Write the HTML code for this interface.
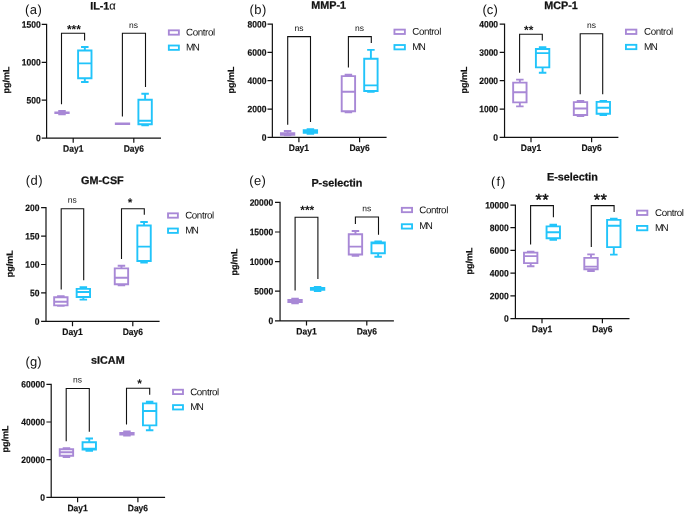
<!DOCTYPE html>
<html lang="en">
<head>
<meta charset="utf-8">
<title>Cytokine box plots</title>
<style>
html,body{margin:0;padding:0;background:#fff;}
body{width:685px;height:515px;overflow:hidden;}
svg{display:block;filter:blur(0.35px);}
text{font-family:"Liberation Sans", Arial, sans-serif;fill:#111111;}
.t{font-weight:bold;font-size:10.8px;stroke:#111;stroke-width:0.25px;}
.k{font-weight:bold;font-size:9.3px;stroke:#111;stroke-width:0.18px;}
.l{font-size:13px;letter-spacing:0.4px;}
.n{font-size:8.5px;}
.s{font-size:11.9px;font-weight:bold;}
.S{font-size:16.5px;letter-spacing:0.4px;stroke:#111;stroke-width:0.45px;}
.g{font-size:9.8px;letter-spacing:-0.43px;}
.m{font-size:9.8px;letter-spacing:-1.6px;}
.ax{stroke:#111111;stroke-width:1.2;fill:none;}
.br{stroke:#111111;stroke-width:1.1;fill:none;}
.p{stroke:#A888D6;stroke-width:1.9;fill:none;}
.b{stroke:#21C4FA;stroke-width:1.9;fill:none;}
</style>
</head>
<body>
<svg width="685" height="515" viewBox="0 0 685 515">
<rect width="685" height="515" fill="#ffffff"/>
<g>
<text class="l" transform="translate(25.1 13.9) rotate(0.03)">(a)</text>
<text class="t" transform="translate(103 9.6) rotate(0.03)" text-anchor="middle">IL-1<tspan font-weight="normal" font-size="11.2px" stroke-width="0.1">α</tspan></text>
<path class="ax" d="M46.6 23.85 V138.05 H161 M41.7 24.45 H46.6 M41.7 62.3 H46.6 M41.7 100.2 H46.6 M41.7 138.05 H46.6 M73.2 138.05 V142.8 M133.8 138.05 V142.8"/>
<text class="k" transform="translate(40.7 27.75) scale(0.915 1) rotate(0.03)" text-anchor="end">1500</text>
<text class="k" transform="translate(40.7 65.6) scale(0.915 1) rotate(0.03)" text-anchor="end">1000</text>
<text class="k" transform="translate(40.7 103.5) scale(0.915 1) rotate(0.03)" text-anchor="end">500</text>
<text class="k" transform="translate(40.7 141.35) scale(0.915 1) rotate(0.03)" text-anchor="end">0</text>
<text class="k" transform="translate(73.2 151.8) scale(0.915 1) rotate(0.03)" text-anchor="middle">Day1</text>
<text class="k" transform="translate(133.8 151.8) scale(0.915 1) rotate(0.03)" text-anchor="middle">Day6</text>
<text class="k" style="font-size:9px" transform="translate(9.2 80) rotate(-90.03)" text-anchor="middle">pg/mL</text>
<rect class="p" style="stroke-width:1.85" x="168.83" y="30.33" width="10.05" height="4.35"/>
<text class="g" transform="translate(186.1 35.6) rotate(0.03)">Control</text>
<rect class="b" style="stroke-width:1.85" x="168.83" y="45.52" width="10.05" height="4.35"/>
<text class="m" transform="translate(186.1 50.5) rotate(0.03)">MN</text>
<path class="p" d="M55.3 112.35 H68.7 V113.05 H55.3 Z M62 112.35 V111.05 M58.25 111.05 H65.75 M62 113.05 V114.35 M58.25 114.35 H65.75" style="fill:#A888D6"/>
<path class="b" d="M78.1 50.5 H91.5 V78.3 H78.1 Z M78.1 63.4 H91.5 M84.8 50.5 V47 M81.05 47 H88.55 M84.8 78.3 V82 M81.05 82 H88.55"/>
<path class="p" d="M115.8 123.55 H129.2 V124.05 H115.8 Z M122.5 123.55 V123.55 M118.75 123.55 H126.25 M122.5 124.05 V124.05 M118.75 124.05 H126.25" style="fill:#A888D6"/>
<path class="b" d="M138.4 99.8 H151.8 V124.3 H138.4 Z M138.4 120.8 H151.8 M145.1 99.8 V93.7 M141.35 93.7 H148.85 M145.1 124.3 V125.4 M141.35 125.4 H148.85"/>
<path class="br" d="M61.5 104.2 V33.3 H84.6 V40.6"/>
<text class="s" transform="translate(73.9 33.2) rotate(0.03)" text-anchor="middle">***</text>
<path class="br" d="M122.4 116.4 V33.3 H145.5 V87"/>
<text class="n" transform="translate(133.5 28) rotate(0.03)" text-anchor="middle">ns</text>
</g>
<g>
<text class="l" transform="translate(249.6 13.9) rotate(0.03)">(b)</text>
<text class="t" transform="translate(328.7 8.8) rotate(0.03)" text-anchor="middle">MMP-1</text>
<path class="ax" d="M272.35 23.5 V137.35 H386.6 M267.5 24.1 H272.35 M267.5 52.4 H272.35 M267.5 80.7 H272.35 M267.5 109.05 H272.35 M267.5 137.35 H272.35 M298.9 137.35 V142.15 M359.6 137.35 V142.15"/>
<text class="k" transform="translate(266.4 27.4) scale(0.915 1) rotate(0.03)" text-anchor="end">8000</text>
<text class="k" transform="translate(266.4 55.7) scale(0.915 1) rotate(0.03)" text-anchor="end">6000</text>
<text class="k" transform="translate(266.4 84) scale(0.915 1) rotate(0.03)" text-anchor="end">4000</text>
<text class="k" transform="translate(266.4 112.35) scale(0.915 1) rotate(0.03)" text-anchor="end">2000</text>
<text class="k" transform="translate(266.4 140.65) scale(0.915 1) rotate(0.03)" text-anchor="end">0</text>
<text class="k" transform="translate(298.9 151.1) scale(0.915 1) rotate(0.03)" text-anchor="middle">Day1</text>
<text class="k" transform="translate(359.6 151.1) scale(0.915 1) rotate(0.03)" text-anchor="middle">Day6</text>
<text class="k" style="font-size:9px" transform="translate(233.9 80) rotate(-90.03)" text-anchor="middle">pg/mL</text>
<rect class="p" style="stroke-width:1.85" x="394.43" y="29.62" width="10.45" height="4.35"/>
<text class="g" transform="translate(412.3 34.7) rotate(0.03)">Control</text>
<rect class="b" style="stroke-width:1.85" x="394.43" y="45.02" width="10.45" height="4.35"/>
<text class="m" transform="translate(412.3 49.9) rotate(0.03)">MN</text>
<path class="p" d="M280.9 133.15 H294.3 V134.75 H280.9 Z M287.6 133.15 V131.05 M283.85 131.05 H291.35 M287.6 134.75 V135.25 M283.85 135.25 H291.35" style="fill:#A888D6"/>
<path class="b" d="M303.7 130.25 H317.1 V132.85 H303.7 Z M310.4 130.25 V129.25 M306.65 129.25 H314.15 M310.4 132.85 V133.75 M306.65 133.75 H314.15" style="fill:#21C4FA"/>
<path class="p" d="M341.7 76.1 H355.1 V111.2 H341.7 Z M341.7 91.7 H355.1 M348.4 76.1 V74.7 M344.65 74.7 H352.15 M348.4 111.2 V112.2 M344.65 112.2 H352.15"/>
<path class="b" d="M364.2 58.7 H377.6 V91 H364.2 Z M364.2 85.4 H377.6 M370.9 58.7 V49.9 M367.15 49.9 H374.65 M370.9 91 V91.9 M367.15 91.9 H374.65"/>
<path class="br" d="M287.7 124.7 V36.6 H310.5 V122"/>
<text class="n" transform="translate(298.9 31) rotate(0.03)" text-anchor="middle">ns</text>
<path class="br" d="M348.4 67.4 V36.6 H371.3 V42.9"/>
<text class="n" transform="translate(359.4 31) rotate(0.03)" text-anchor="middle">ns</text>
</g>
<g>
<text class="l" transform="translate(482.4 13.9) rotate(0.03)" style="letter-spacing:0.1px">(c)</text>
<text class="t" transform="translate(561 9.1) rotate(0.03)" text-anchor="middle">MCP-1</text>
<path class="ax" d="M504.55 23.5 V137.35 H618.4 M499.7 24.1 H504.55 M499.7 52.4 H504.55 M499.7 80.7 H504.55 M499.7 109.05 H504.55 M499.7 137.35 H504.55 M531 137.35 V142.15 M591.6 137.35 V142.15"/>
<text class="k" transform="translate(498.1 27.4) scale(0.915 1) rotate(0.03)" text-anchor="end">4000</text>
<text class="k" transform="translate(498.1 55.7) scale(0.915 1) rotate(0.03)" text-anchor="end">3000</text>
<text class="k" transform="translate(498.1 84) scale(0.915 1) rotate(0.03)" text-anchor="end">2000</text>
<text class="k" transform="translate(498.1 112.35) scale(0.915 1) rotate(0.03)" text-anchor="end">1000</text>
<text class="k" transform="translate(498.1 140.65) scale(0.915 1) rotate(0.03)" text-anchor="end">0</text>
<text class="k" transform="translate(531 151.1) scale(0.915 1) rotate(0.03)" text-anchor="middle">Day1</text>
<text class="k" transform="translate(591.6 151.1) scale(0.915 1) rotate(0.03)" text-anchor="middle">Day6</text>
<text class="k" style="font-size:9px" transform="translate(466.9 80) rotate(-90.03)" text-anchor="middle">pg/mL</text>
<rect class="p" style="stroke-width:1.85" x="625.92" y="29.62" width="10.45" height="4.35"/>
<text class="g" transform="translate(644.1 34.7) rotate(0.03)">Control</text>
<rect class="b" style="stroke-width:1.85" x="625.92" y="44.82" width="10.45" height="4.35"/>
<text class="m" transform="translate(644.1 49.9) rotate(0.03)">MN</text>
<path class="p" d="M513.15 82.6 H526.55 V102.4 H513.15 Z M513.15 92.2 H526.55 M519.85 82.6 V79.6 M516.1 79.6 H523.6 M519.85 102.4 V106.4 M516.1 106.4 H523.6"/>
<path class="b" d="M535.9 49 H549.3 V67.4 H535.9 Z M535.9 53.1 H549.3 M542.6 49 V47.3 M538.85 47.3 H546.35 M542.6 67.4 V72.7 M538.85 72.7 H546.35"/>
<path class="p" d="M573.8 102.1 H587.2 V115 H573.8 Z M573.8 108.5 H587.2 M580.5 102.1 V101 M576.75 101 H584.25 M580.5 115 V116.1 M576.75 116.1 H584.25"/>
<path class="b" d="M596.6 101.9 H610 V113.8 H596.6 Z M596.6 107.7 H610 M603.3 101.9 V101 M599.55 101 H607.05 M603.3 113.8 V115 M599.55 115 H607.05"/>
<path class="br" d="M519.6 72.7 V34.2 H542.3 V40.6"/>
<text class="s" transform="translate(528.7 34.1) rotate(0.03)" text-anchor="middle">**</text>
<path class="br" d="M580.2 94.2 V33.8 H602.7 V94.2"/>
<text class="n" transform="translate(591.6 28) rotate(0.03)" text-anchor="middle">ns</text>
</g>
<g>
<text class="l" transform="translate(25.8 184.7) rotate(0.03)">(d)</text>
<text class="t" transform="translate(102.4 184) rotate(0.03)" text-anchor="middle">GM-CSF</text>
<path class="ax" d="M46 207.1 V321.35 H159.6 M41.1 207.7 H46 M41.1 236.1 H46 M41.1 264.5 H46 M41.1 292.9 H46 M41.1 321.35 H46 M72.5 321.35 V326.15 M132.8 321.35 V326.15"/>
<text class="k" transform="translate(39.5 211) scale(0.915 1) rotate(0.03)" text-anchor="end">200</text>
<text class="k" transform="translate(39.5 239.4) scale(0.915 1) rotate(0.03)" text-anchor="end">150</text>
<text class="k" transform="translate(39.5 267.8) scale(0.915 1) rotate(0.03)" text-anchor="end">100</text>
<text class="k" transform="translate(39.5 296.2) scale(0.915 1) rotate(0.03)" text-anchor="end">50</text>
<text class="k" transform="translate(39.5 324.65) scale(0.915 1) rotate(0.03)" text-anchor="end">0</text>
<text class="k" transform="translate(72.5 335.1) scale(0.915 1) rotate(0.03)" text-anchor="middle">Day1</text>
<text class="k" transform="translate(132.8 335.1) scale(0.915 1) rotate(0.03)" text-anchor="middle">Day6</text>
<text class="k" style="font-size:9px" transform="translate(12.8 263.7) rotate(-90.03)" text-anchor="middle">pg/mL</text>
<rect class="p" style="stroke-width:1.85" x="168.03" y="213.33" width="9.85" height="4.35"/>
<text class="g" transform="translate(185.2 218.5) rotate(0.03)">Control</text>
<rect class="b" style="stroke-width:1.85" x="168.03" y="228.53" width="9.85" height="4.35"/>
<text class="m" transform="translate(185.2 233.4) rotate(0.03)">MN</text>
<path class="p" d="M54.15 297.3 H67.55 V305.4 H54.15 Z M54.15 301.7 H67.55 M60.85 297.3 V296.1 M57.1 296.1 H64.6 M60.85 305.4 V305.9 M57.1 305.9 H64.6"/>
<path class="b" d="M76.65 288.9 H90.05 V297 H76.65 Z M76.65 292 H90.05 M83.35 288.9 V287.3 M79.6 287.3 H87.1 M83.35 297 V299.6 M79.6 299.6 H87.1"/>
<path class="p" d="M114.75 268.4 H128.15 V284.2 H114.75 Z M114.75 277.7 H128.15 M121.45 268.4 V265.8 M117.7 265.8 H125.2 M121.45 284.2 V285.4 M117.7 285.4 H125.2"/>
<path class="b" d="M137.35 225.5 H150.75 V261 H137.35 Z M137.35 246.6 H150.75 M144.05 225.5 V222 M140.3 222 H147.8 M144.05 261 V262.6 M140.3 262.6 H147.8"/>
<path class="br" d="M61.2 289.4 V208.7 H83.7 V280.3"/>
<text class="n" transform="translate(72.2 202.8) rotate(0.03)" text-anchor="middle">ns</text>
<path class="br" d="M121.5 259.1 V208.7 H144.3 V214.7"/>
<text class="s" transform="translate(130.1 206.5) rotate(0.03)" text-anchor="middle">*</text>
</g>
<g>
<text class="l" transform="translate(249.2 185.1) rotate(0.03)">(e)</text>
<text class="t" transform="translate(336.9 186.6) rotate(0.03)" text-anchor="middle">P-selectin</text>
<path class="ax" d="M280.05 201.8 V320.8 H393.9 M275 202.4 H280.05 M275 232 H280.05 M275 261.6 H280.05 M275 291.2 H280.05 M275 320.8 H280.05 M306.5 320.8 V325.6 M366.8 320.8 V325.6"/>
<text class="k" transform="translate(273.3 205.7) scale(0.915 1) rotate(0.03)" text-anchor="end">20000</text>
<text class="k" transform="translate(273.3 235.3) scale(0.915 1) rotate(0.03)" text-anchor="end">15000</text>
<text class="k" transform="translate(273.3 264.9) scale(0.915 1) rotate(0.03)" text-anchor="end">10000</text>
<text class="k" transform="translate(273.3 294.5) scale(0.915 1) rotate(0.03)" text-anchor="end">5000</text>
<text class="k" transform="translate(273.3 324.1) scale(0.915 1) rotate(0.03)" text-anchor="end">0</text>
<text class="k" transform="translate(306.5 334.55) scale(0.915 1) rotate(0.03)" text-anchor="middle">Day1</text>
<text class="k" transform="translate(366.8 334.55) scale(0.915 1) rotate(0.03)" text-anchor="middle">Day6</text>
<text class="k" style="font-size:9px" transform="translate(237.3 262.1) rotate(-90.03)" text-anchor="middle">pg/mL</text>
<rect class="p" style="stroke-width:1.85" x="401.83" y="207.83" width="10.25" height="4.35"/>
<text class="g" transform="translate(419.3 213.3) rotate(0.03)">Control</text>
<rect class="b" style="stroke-width:1.85" x="401.83" y="224.23" width="10.25" height="4.35"/>
<text class="m" transform="translate(419.3 229) rotate(0.03)">MN</text>
<path class="p" d="M288.35 299.95 H301.75 V301.95 H288.35 Z M295.05 299.95 V298.65 M291.3 298.65 H298.8 M295.05 301.95 V303.35 M291.3 303.35 H298.8"/>
<path class="b" d="M310.9 288.05 H324.3 V289.85 H310.9 Z M317.6 288.05 V286.85 M313.85 286.85 H321.35 M317.6 289.85 V291.05 M313.85 291.05 H321.35" style="fill:#21C4FA"/>
<path class="p" d="M348.75 234.3 H362.15 V254.5 H348.75 Z M348.75 246.6 H362.15 M355.45 234.3 V231 M351.7 231 H359.2 M355.45 254.5 V255.7 M351.7 255.7 H359.2"/>
<path class="b" d="M371.45 242.4 H384.85 V253.3 H371.45 Z M371.45 243.4 H384.85 M378.15 242.4 V241.5 M374.4 241.5 H381.9 M378.15 253.3 V256.7 M374.4 256.7 H381.9"/>
<path class="br" d="M295.1 290.6 V217.3 H317.9 V278.9"/>
<text class="s" transform="translate(307.3 214) rotate(0.03)" text-anchor="middle">***</text>
<path class="br" d="M355.4 224 V217 H378.5 V234.8"/>
<text class="n" transform="translate(366.8 211.2) rotate(0.03)" text-anchor="middle">ns</text>
</g>
<g>
<text class="l" transform="translate(491.1 186) rotate(0.03)" style="letter-spacing:1px">(f)</text>
<text class="t" transform="translate(572.45 180.5) rotate(0.03)" text-anchor="middle">E-selectin</text>
<path class="ax" d="M515.4 204.6 V318.55 H629.5 M510.4 205.2 H515.4 M510.4 227.7 H515.4 M510.4 250.4 H515.4 M510.4 273.1 H515.4 M510.4 295.85 H515.4 M510.4 318.55 H515.4 M542 318.55 V323.35 M602.4 318.55 V323.35"/>
<text class="k" transform="translate(508.8 208.5) scale(0.915 1) rotate(0.03)" text-anchor="end">10000</text>
<text class="k" transform="translate(508.8 231) scale(0.915 1) rotate(0.03)" text-anchor="end">8000</text>
<text class="k" transform="translate(508.8 253.7) scale(0.915 1) rotate(0.03)" text-anchor="end">6000</text>
<text class="k" transform="translate(508.8 276.4) scale(0.915 1) rotate(0.03)" text-anchor="end">4000</text>
<text class="k" transform="translate(508.8 299.15) scale(0.915 1) rotate(0.03)" text-anchor="end">2000</text>
<text class="k" transform="translate(508.8 321.85) scale(0.915 1) rotate(0.03)" text-anchor="end">0</text>
<text class="k" transform="translate(542 332.3) scale(0.915 1) rotate(0.03)" text-anchor="middle">Day1</text>
<text class="k" transform="translate(602.4 332.3) scale(0.915 1) rotate(0.03)" text-anchor="middle">Day6</text>
<text class="k" style="font-size:9px" transform="translate(472.2 261.1) rotate(-90.03)" text-anchor="middle">pg/mL</text>
<rect class="p" style="stroke-width:1.85" x="637.02" y="210.63" width="10.35" height="4.35"/>
<text class="g" transform="translate(655 215.9) rotate(0.03)">Control</text>
<rect class="b" style="stroke-width:1.85" x="637.02" y="225.93" width="10.35" height="4.35"/>
<text class="m" transform="translate(655 231) rotate(0.03)">MN</text>
<path class="p" d="M524 252.6 H537.4 V263.1 H524 Z M524 256.1 H537.4 M530.7 252.6 V251.8 M526.95 251.8 H534.45 M530.7 263.1 V266.3 M526.95 266.3 H534.45"/>
<path class="b" d="M546.55 226.4 H559.95 V238.3 H546.55 Z M546.55 232.2 H559.95 M553.25 226.4 V224.7 M549.5 224.7 H557 M553.25 238.3 V239.7 M549.5 239.7 H557"/>
<path class="p" d="M584.3 257.9 H597.7 V269.3 H584.3 Z M584.3 266.6 H597.7 M591 257.9 V254.4 M587.25 254.4 H594.75 M591 269.3 V271 M587.25 271 H594.75"/>
<path class="b" d="M607.1 219.9 H620.5 V247.1 H607.1 Z M607.1 225.7 H620.5 M613.8 219.9 V218.7 M610.05 218.7 H617.55 M613.8 247.1 V254.6 M610.05 254.6 H617.55"/>
<path class="br" d="M530.6 244.5 V205.6 H553.4 V217.3"/>
<text class="S" transform="translate(542.3 205.3) rotate(0.03)" text-anchor="middle">**</text>
<path class="br" d="M591.3 247.1 V205.6 H614.1 V212"/>
<text class="S" transform="translate(600.5 205.3) rotate(0.03)" text-anchor="middle">**</text>
</g>
<g>
<text class="l" transform="translate(25.5 366.1) rotate(0.03)" style="letter-spacing:0.1px">(g)</text>
<text class="t" transform="translate(107.85 363.7) rotate(0.03)" text-anchor="middle">sICAM</text>
<path class="ax" d="M51.2 383.7 V497.45 H165.1 M46.4 384.3 H51.2 M46.4 422 H51.2 M46.4 459.7 H51.2 M46.4 497.45 H51.2 M77.6 497.45 V502.25 M137.9 497.45 V502.25"/>
<text class="k" transform="translate(45 387.6) scale(0.915 1) rotate(0.03)" text-anchor="end">60000</text>
<text class="k" transform="translate(45 425.3) scale(0.915 1) rotate(0.03)" text-anchor="end">40000</text>
<text class="k" transform="translate(45 463) scale(0.915 1) rotate(0.03)" text-anchor="end">20000</text>
<text class="k" transform="translate(45 500.75) scale(0.915 1) rotate(0.03)" text-anchor="end">0</text>
<text class="k" transform="translate(77.6 511.2) scale(0.915 1) rotate(0.03)" text-anchor="middle">Day1</text>
<text class="k" transform="translate(137.9 511.2) scale(0.915 1) rotate(0.03)" text-anchor="middle">Day6</text>
<text class="k" style="font-size:9px" transform="translate(8.3 439.1) rotate(-90.03)" text-anchor="middle">pg/mL</text>
<rect class="p" style="stroke-width:1.85" x="173.03" y="389.73" width="9.95" height="4.35"/>
<text class="g" transform="translate(190.2 395.2) rotate(0.03)">Control</text>
<rect class="b" style="stroke-width:1.85" x="173.03" y="405.12" width="9.95" height="4.35"/>
<text class="m" transform="translate(190.2 410.1) rotate(0.03)">MN</text>
<path class="p" d="M59.75 449.2 H73.15 V455.7 H59.75 Z M59.75 452.2 H73.15 M66.45 449.2 V448.1 M62.7 448.1 H70.2 M66.45 455.7 V457.1 M62.7 457.1 H70.2"/>
<path class="b" d="M82.55 442.2 H95.95 V449.5 H82.55 Z M82.55 448.6 H95.95 M89.25 442.2 V438.5 M85.5 438.5 H93 M89.25 449.5 V450.8 M85.5 450.8 H93"/>
<path class="p" d="M120.25 432.85 H133.65 V434.55 H120.25 Z M126.95 432.85 V431.55 M123.2 431.55 H130.7 M126.95 434.55 V435.55 M123.2 435.55 H130.7" style="fill:#A888D6"/>
<path class="b" d="M142.95 403.4 H156.35 V425.4 H142.95 Z M142.95 411 H156.35 M149.65 403.4 V401.7 M145.9 401.7 H153.4 M149.65 425.4 V430.3 M145.9 430.3 H153.4"/>
<path class="br" d="M66.2 441.3 V388.5 H89.3 V431.7"/>
<text class="n" transform="translate(77.6 382.6) rotate(0.03)" text-anchor="middle">ns</text>
<path class="br" d="M126.5 424.6 V388.2 H149.7 V394.7"/>
<text class="s" transform="translate(139.5 387.4) rotate(0.03)" text-anchor="middle">*</text>
</g>
</svg>
</body>
</html>
